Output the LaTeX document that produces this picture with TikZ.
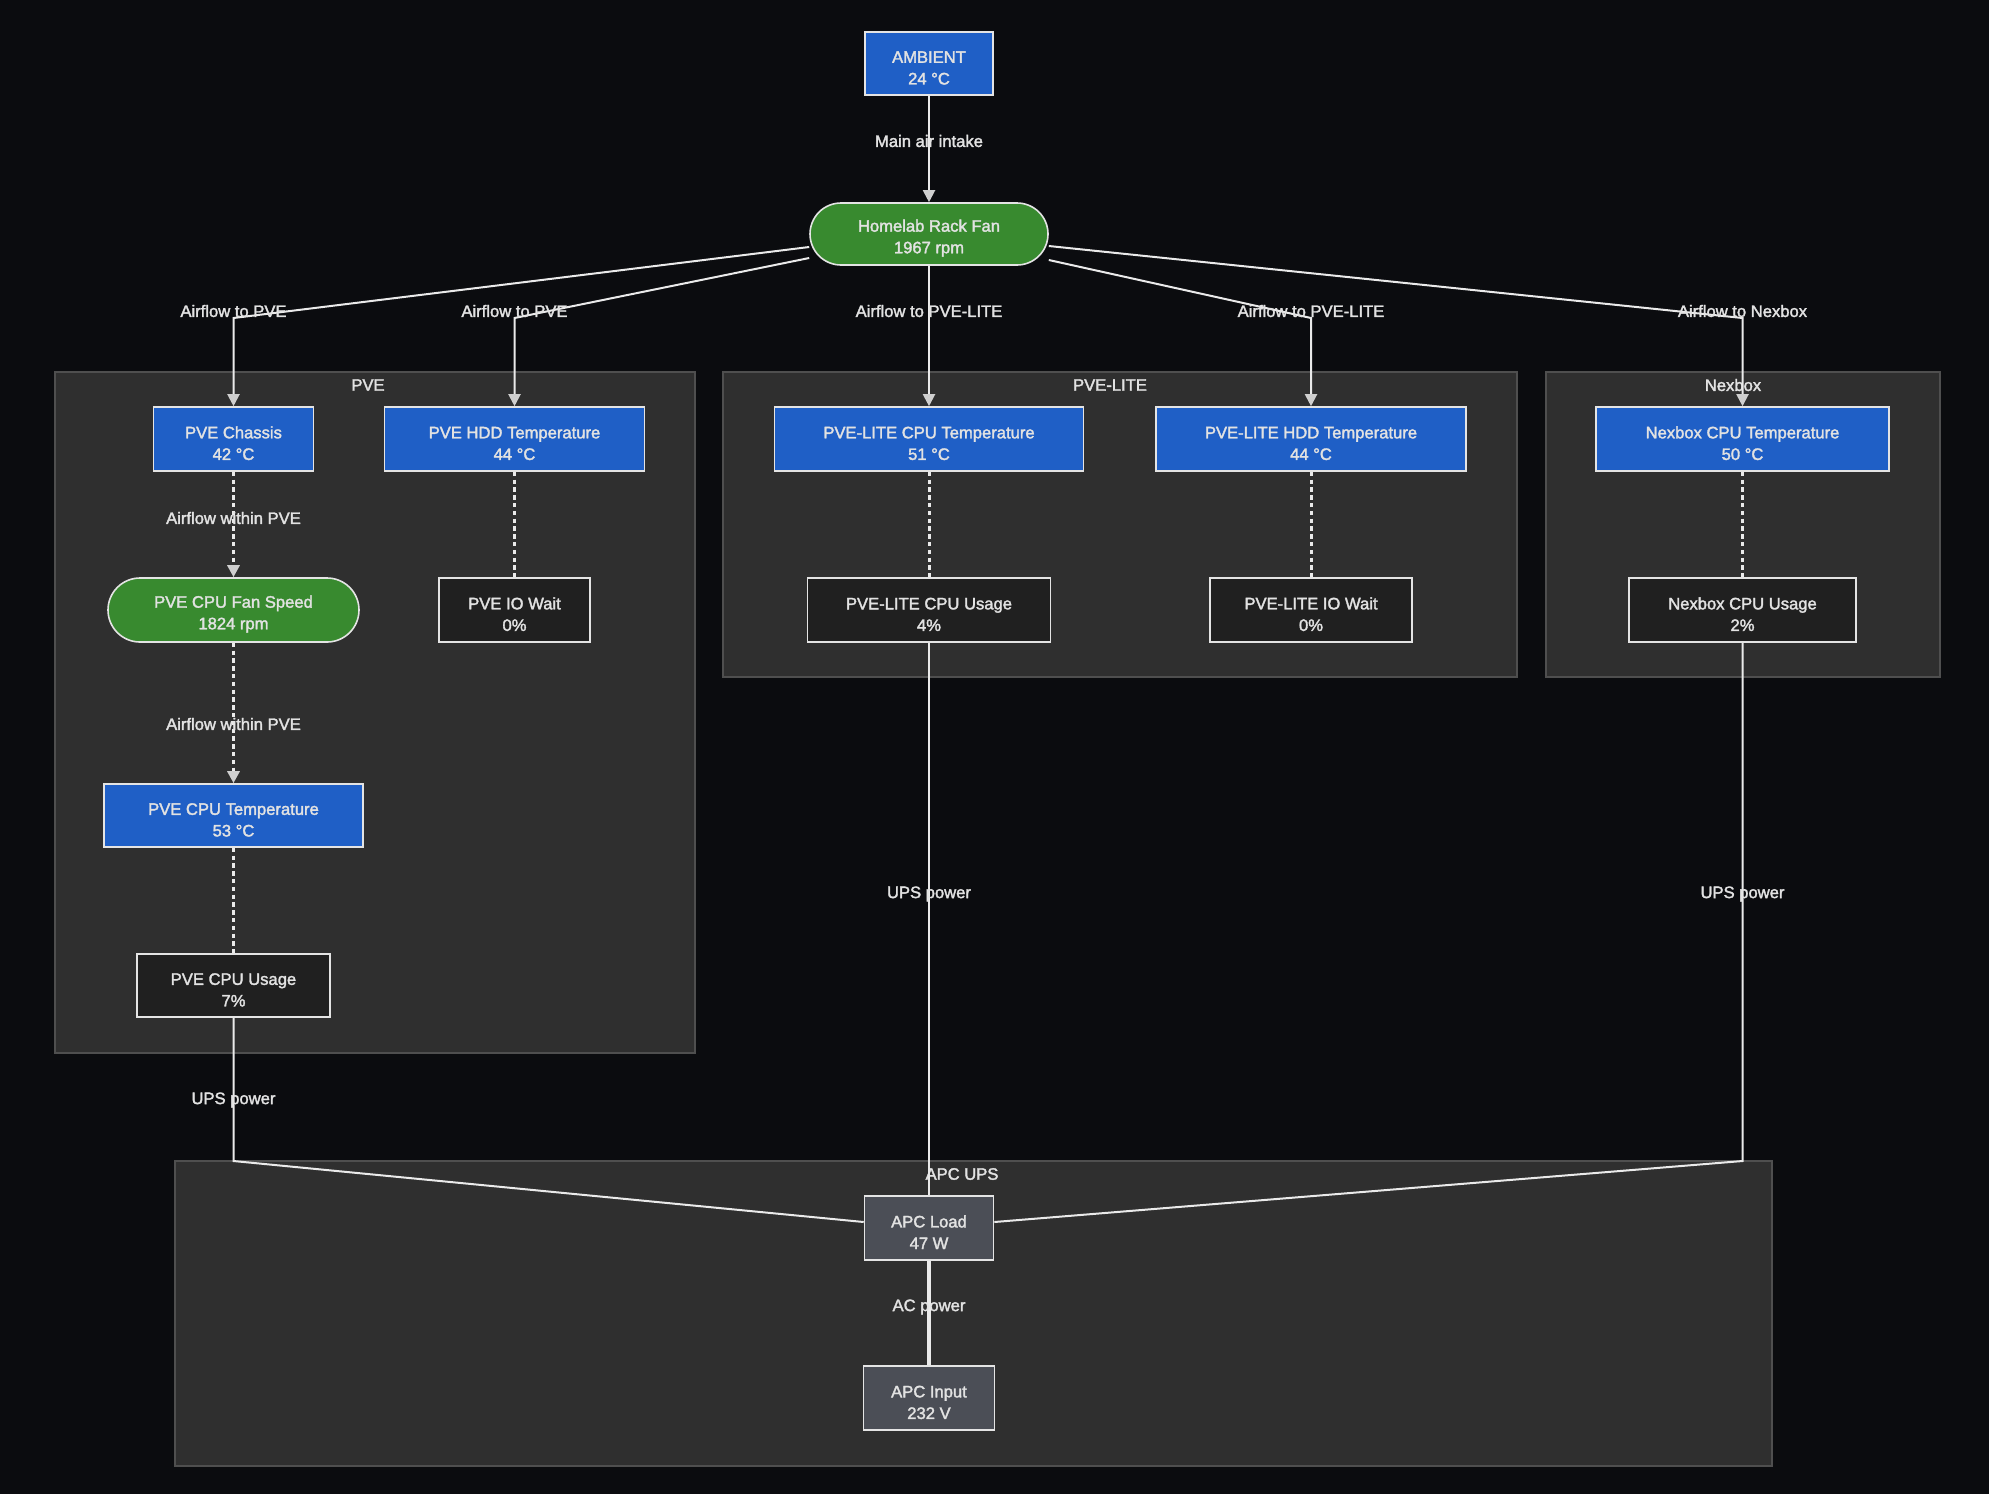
\documentclass[tikz,border=0pt]{standalone}
\usepackage{fontspec}
\setmainfont{Liberation Sans}[RawFeature={embolden=2}]
\usetikzlibrary{arrows.meta}
\definecolor{bg}{HTML}{0B0C0F}
\definecolor{clfill}{HTML}{2F2F2F}
\definecolor{clborder}{HTML}{4F4F4F}
\definecolor{blu}{HTML}{1F5FC6}
\definecolor{grn}{HTML}{388A2F}
\definecolor{dk}{HTML}{202020}
\definecolor{apc}{HTML}{4B4E56}
\definecolor{txt}{HTML}{E2E2E2}
\definecolor{edgec}{HTML}{EAEAEA}
\definecolor{tipc}{HTML}{CFCFCF}
\definecolor{bord}{HTML}{E4E4E4}
\newcommand\twol[2]{\rule{0pt}{10.2pt}#1\\#2}
\tikzset{
  txtfont/.style={font=\fontsize{8.3}{10.8}\selectfont},
  box/.style={draw=bord, line width=0.8pt, text=txt, align=center, inner sep=0pt, txtfont},
  tempbox/.style={box, fill=blu},
  fanbox/.style={box, fill=grn, rounded corners=15.5pt},
  metricbox/.style={box, fill=dk},
  apcbox/.style={box, fill=apc},
  cluster/.style={draw=clborder, fill=clfill, line width=1pt},
  flow/.style={draw=edgec, line width=1pt},
  dots/.style={draw=edgec, line width=1.5pt, dash pattern=on 2.2pt off 1.7pt},
  tipA/.style={-{Triangle[width=6pt,length=6pt,color=tipc]}},
  lbl/.style={text=txt, inner sep=0pt, txtfont},
  acline/.style={draw=edgec, line width=2.4pt}
}
\begin{document}
\begin{tikzpicture}[x=0.5pt,y=-0.5pt]
\useasboundingbox[fill=bg] (0,0) rectangle (1989,1494);
% clusters
\path[cluster] (54.5,372) rectangle (695,1053);
\path[cluster] (723,372) rectangle (1517,677);
\path[cluster] (1546,372) rectangle (1940,677);
\path[cluster] (175,1161) rectangle (1772,1466);
\node[lbl] (lpve) at (368,385) {PVE};
\node[lbl] (llite) at (1110,385) {PVE-LITE};
\node[lbl] (lnex) at (1733,385) {Nexbox};
\node[lbl] (lups) at (962,1174) {APC UPS};
% nodes
\node[tempbox, minimum width=64pt, minimum height=31.5pt] (amb) at (929,63.5) {\twol{AMBIENT}{24 °C}};
\node[fanbox, minimum width=119pt, minimum height=31pt] (fan) at (929,234) {\twol{Homelab Rack Fan}{1967 rpm}};
\node[tempbox, minimum width=80pt, minimum height=32pt] (chassis) at (233.5,439) {\twol{PVE Chassis}{42 °C}};
\node[tempbox, minimum width=130pt, minimum height=32pt] (hdd) at (514.5,439) {\twol{PVE HDD Temperature}{44 °C}};
\node[fanbox, rounded corners=16pt, minimum width=125.5pt, minimum height=32pt] (fanspeed) at (233.5,610) {\twol{PVE CPU Fan Speed}{1824 rpm}};
\node[metricbox, minimum width=75.5pt, minimum height=32pt] (iowait) at (514.5,610) {\twol{PVE IO Wait}{0\%}};
\node[tempbox, minimum width=129.5pt, minimum height=31.5pt] (cputemp) at (233.5,815.5) {\twol{PVE CPU Temperature}{53 °C}};
\node[metricbox, minimum width=96.5pt, minimum height=31.5pt] (cpuusage) at (233.5,985.5) {\twol{PVE CPU Usage}{7\%}};
\node[tempbox, minimum width=154.5pt, minimum height=32pt] (lcpu) at (929,439) {\twol{PVE-LITE CPU Temperature}{51 °C}};
\node[tempbox, minimum width=155pt, minimum height=32pt] (lhdd) at (1311,439) {\twol{PVE-LITE HDD Temperature}{44 °C}};
\node[metricbox, minimum width=121.5pt, minimum height=32pt] (lusage) at (929,610) {\twol{PVE-LITE CPU Usage}{4\%}};
\node[metricbox, minimum width=101pt, minimum height=32pt] (liow) at (1311,610) {\twol{PVE-LITE IO Wait}{0\%}};
\node[tempbox, minimum width=146.5pt, minimum height=32pt] (ncpu) at (1742.5,439) {\twol{Nexbox CPU Temperature}{50 °C}};
\node[metricbox, minimum width=113.5pt, minimum height=32pt] (nusage) at (1742.5,610) {\twol{Nexbox CPU Usage}{2\%}};
\node[apcbox, minimum width=64.5pt, minimum height=32pt] (load) at (929,1228) {\twol{APC Load}{47 W}};
\node[apcbox, minimum width=65.5pt, minimum height=32pt] (input) at (929,1398) {\twol{APC Input}{232 V}};
% corner coordinates
\coordinate (c1) at (233.5,318);
\coordinate (c2) at (514.5,318);
\coordinate (c4) at (1311,318);
\coordinate (c5) at (1742.5,318);
\coordinate (c6) at (233.5,1161);
\coordinate (c7) at (1742.5,1161);
% edges
\draw[flow,tipA] (amb) -- (fan);
\draw[flow,tipA] ([yshift=-6.5pt]fan.west) -- (c1) -- (chassis.north);
\draw[flow,tipA] ([yshift=-12pt]fan.west) -- (c2) -- (hdd.north);
\draw[flow,tipA] (fan.south) -- (lcpu.north);
\draw[flow,tipA] ([yshift=-13pt]fan.east) -- (c4) -- (lhdd.north);
\draw[flow,tipA] ([yshift=-6pt]fan.east) -- (c5) -- (ncpu.north);
\draw[dots,tipA] (chassis) -- (fanspeed);
\draw[dots,tipA] (fanspeed) -- (cputemp);
\draw[dots] (cputemp) -- (cpuusage);
\draw[dots] (hdd) -- (iowait);
\draw[dots] (lcpu) -- (lusage);
\draw[dots] (lhdd) -- (liow);
\draw[dots] (ncpu) -- (nusage);
\draw[flow] (cpuusage) -- (c6) -- ([yshift=3pt]load.west);
\draw[flow] (lusage) -- (load);
\draw[flow] (nusage) -- (c7) -- ([yshift=3pt]load.east);
\draw[acline] (input) -- (load);
% edge labels
\node[lbl] (e1) at (929,141) {Main air intake};
\node[lbl] (e2) at (233.5,311) {Airflow to PVE};
\node[lbl] (e3) at (514.5,311) {Airflow to PVE};
\node[lbl] (e4) at (929,311) {Airflow to PVE-LITE};
\node[lbl] (e5) at (1311,311) {Airflow to PVE-LITE};
\node[lbl] (e6) at (1742.5,311) {Airflow to Nexbox};
\node[lbl] (e7) at (233.5,518) {Airflow within PVE};
\node[lbl] (e8) at (233.5,724) {Airflow within PVE};
\node[lbl] (e9) at (929,894) {UPS power};
\node[lbl] (e10) at (1742.5,894) {UPS power};
\node[lbl] (e11) at (233.5,1100) {UPS power};
\node[lbl] (e12) at (929,1307) {AC power};
\end{tikzpicture}
\end{document}
